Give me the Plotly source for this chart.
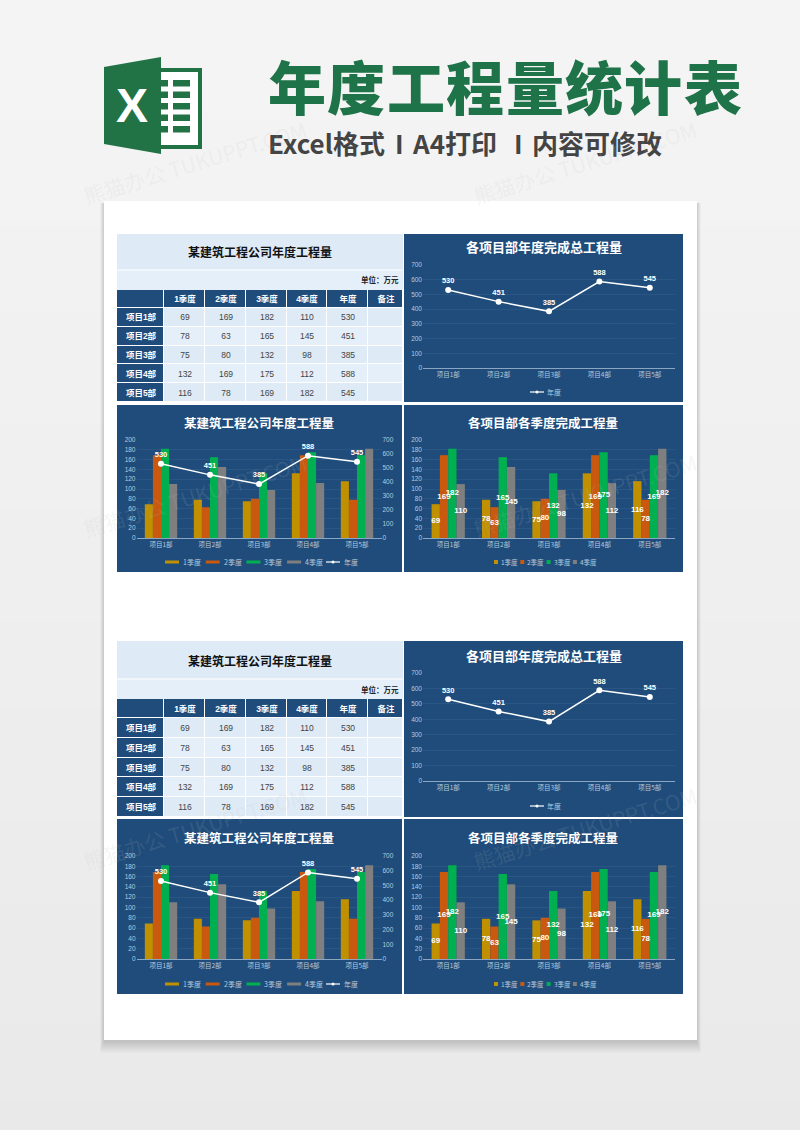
# Annual engineering volume poster: two copies of a table + three charts
import plotly.graph_objects as go

projects = ['项目1部', '项目2部', '项目3部', '项目4部', '项目5部']
quarters = ['1季度', '2季度', '3季度', '4季度']
q1 = [69, 78, 75, 132, 116]
q2 = [169, 63, 80, 169, 78]
q3 = [182, 165, 132, 175, 169]
q4 = [110, 145, 98, 112, 182]
year_total = [530, 451, 385, 588, 545]
notes = ['', '', '', '', '']
header_labels = ['', '1季度', '2季度', '3季度', '4季度', '年度', '备注']
left_ticks = [0, 20, 40, 60, 80, 100, 120, 140, 160, 180, 200]
right_ticks = [0, 100, 200, 300, 400, 500, 600, 700]

W, H = 800, 1130
NAVY = '#1f4c7a'
GRID = '#2a5684'
AXIS = '#8aa6c2'
TICK = '#b9cadb'
LIGHT = '#deebf7'
LIGHT2 = '#e5eff9'
GREEN = '#217346'
Q_COLORS = ['#c09000', '#c8590f', '#00b050', '#7f7f7f']
CJK = 'Noto Sans CJK SC'
NUM = 'Liberation Sans'
CELL_FONT = 'Liberation Sans, Noto Sans CJK SC'


def px(x):
    return x / W


def py(y):
    return 1 - y / H


fig = go.Figure()
shapes = []
notes_text = []


def rect(x0, y0, x1, y1, color):
    shapes.append(dict(type='rect', xref='paper', yref='paper', layer='below',
                       x0=px(x0), x1=px(x1), y0=py(y0), y1=py(y1),
                       fillcolor=color, line_width=0))


def label(x, y, s, size=8, color='white', anchor='center', font=CJK, weight='normal', **kw):
    notes_text.append(dict(x=px(x), y=py(y), xref='paper', yref='paper', text=s,
                           showarrow=False, xanchor=anchor, yanchor='middle',
                           font=dict(size=size, color=color, family=font, weight=weight), **kw))


# background and white sheet
bands = 40
for i in range(bands):
    v = 244 - int(11 * i / (bands - 1))
    rect(0, H * i / bands, W, min(H, H * (i + 1) / bands + 1), f'rgb({v},{v},{v})')
for i in range(10, 0, -1):
    rect(104 - i * 0.4, 203, 697 + i * 0.4, 1041 + i * 1.2, 'rgba(0,0,0,0.016)')
rect(104, 201, 697, 1040, 'white')

# Excel logo
shapes.append(dict(type='path', xref='paper', yref='paper', layer='below', line_width=0,
                   fillcolor=GREEN,
                   path=f'M{px(104)},{py(67)} L{px(161)},{py(57)} L{px(161)},{py(154)} '
                        f'L{px(104)},{py(144)} Z'))
rect(161, 68, 202, 149, GREEN)
rect(161, 72, 198, 145, 'white')
for top in [80, 91.5, 103, 114.5, 126]:
    rect(161, top, 168, top + 6.5, GREEN)
    rect(173, top, 190, top + 6.5, GREEN)
label(131.5, 105, 'X', size=48, font='Liberation Sans', weight='bold')

# poster heading
for i, ch in enumerate('年度工程量统计表'):
    label(297 + i * 59.4, 85, ch, size=58, color='#1e7348', weight=900)
for x, part in [(266, 'Excel格式'), (393, 'I'), (410, 'A4打印'), (512, 'I'), (530, '内容可修改')]:
    label(x, 142, part, size=26, color='#444444', anchor='left', weight='bold')

axis_no = 0


def new_axes(x0, x1, y_top, y_bot, y_range, y_ticks):
    """Category x axis and value y axis placed on a pixel box."""
    global axis_no
    axis_no += 1
    n = axis_no
    sx = '' if n == 1 else str(n)
    fig.layout[f'xaxis{sx}'] = dict(
        domain=[px(x0), px(x1)], anchor=f'y{sx}', range=[-0.5, 4.5], type='category',
        automargin=False, showgrid=False, showline=True, linecolor=AXIS, linewidth=1, ticks='',
        tickfont=dict(size=6.5, color=TICK, family=CJK))
    fig.layout[f'yaxis{sx}'] = dict(
        domain=[py(y_bot), py(y_top)], anchor=f'x{sx}', range=y_range, tickvals=y_ticks,
        automargin=False, showgrid=True, gridcolor=GRID, gridwidth=1, zeroline=False,
        showline=False, ticks='', tickfont=dict(size=6.5, color=TICK, family=NUM))
    return f'x{sx}', f'y{sx}'


def year_line(xa, ya):
    fig.add_trace(go.Scatter(x=projects, y=year_total, xaxis=xa, yaxis=ya, name='年度',
                             mode='lines+markers+text', text=year_total,
                             textposition='top center',
                             textfont=dict(size=7.5, color='white', family=NUM, weight='bold'),
                             line=dict(color='white', width=1.5),
                             marker=dict(color='white', size=6), showlegend=False))


def quarter_bars(xa, ya):
    for name, vals, color in zip(quarters, [q1, q2, q3, q4], Q_COLORS):
        fig.add_trace(go.Bar(x=projects, y=vals, xaxis=xa, yaxis=ya, name=name,
                             marker=dict(color=color, line_width=0), showlegend=False))


def quarter_labels(xa, ya):
    # scatter text sits above every bar, so a wide label is not hidden by the next bar
    for name, vals in zip(quarters, [q1, q2, q3, q4]):
        fig.add_trace(go.Scatter(x=projects, y=[v / 2 for v in vals], xaxis=xa, yaxis=ya,
                                 mode='text', text=vals, textposition='middle center',
                                 offsetgroup=name, alignmentgroup=xa, name=name,
                                 textfont=dict(size=8, color='white', family=NUM, weight='bold'),
                                 showlegend=False))


def add_table(y_title, y_unit, y_head, y_cells, y_end):
    rect(117, y_title, 403, y_unit - 0.5, LIGHT)
    rect(117, y_unit + 0.5, 403, y_head, LIGHT2)
    label(259.5, (y_title + y_unit) / 2, '某建筑工程公司年度工程量', size=12, color='#111111', weight='bold')
    label(401, (y_unit + y_head) / 2, '单位：万元', size=7.5, color='#222222', anchor='right', weight='bold')

    # the grid is a heatmap, row and column edges given in pixels of its own axes
    col_w = [47, 41, 41, 41, 40, 41, 35]
    x_edges = [0]
    for w in col_w:
        x_edges.append(x_edges[-1] + w)
    head_h = y_cells - y_head
    row_h = (y_end - y_cells) / 5
    y_edges = [0, head_h] + [head_h + row_h * (i + 1) for i in range(5)]

    columns = [q1, q2, q3, q4, year_total, notes]
    text = [[f'<b>{h}</b>' for h in header_labels]]
    z = [[0] * 7]
    for r in range(5):
        text.append([f'<b>{projects[r]}</b>'] + [str(c[r]) for c in columns])
        z.append([0] + [1 + r % 2] * 6)

    global axis_no
    axis_no += 1
    sx = '' if axis_no == 1 else str(axis_no)
    hidden = dict(automargin=False, showgrid=False, zeroline=False, showticklabels=False, ticks='')
    fig.layout[f'xaxis{sx}'] = dict(domain=[px(117), px(403)], anchor=f'y{sx}',
                                    range=[0, x_edges[-1]], **hidden)
    fig.layout[f'yaxis{sx}'] = dict(domain=[py(y_end), py(y_head)], anchor=f'x{sx}',
                                    range=[y_edges[-1], 0], **hidden)
    fig.add_trace(go.Heatmap(x=x_edges, y=y_edges, z=z, text=text, texttemplate='%{text}',
                             xaxis=f'x{sx}', yaxis=f'y{sx}', xgap=1, ygap=1, zmin=0, zmax=2,
                             colorscale=[[0, NAVY], [0.5, LIGHT], [1, LIGHT2]],
                             showscale=False, hoverinfo='skip',
                             textfont=dict(size=8.5, family=CELL_FONT)))


def line_swatch(x, y):
    shapes.append(dict(type='line', xref='paper', yref='paper', x0=px(x), x1=px(x + 14),
                       y0=py(y), y1=py(y), line=dict(color='white', width=1.2)))
    shapes.append(dict(type='circle', xref='paper', yref='paper', fillcolor='white', line_width=0,
                       x0=px(x + 5.5), x1=px(x + 8.5), y0=py(y + 1.5), y1=py(y - 1.5)))


def add_panels(y_top, y_bot, line_box, combo_top, combo_box, title_line, title_low):
    rect(404, y_top, 683, y_bot, NAVY)
    rect(117, combo_top, 402, combo_box[2], NAVY)
    rect(404, combo_top, 683, combo_box[2], NAVY)

    label(543.5, title_line, '各项目部年度完成总工程量', size=13, weight='bold')
    xa, ya = new_axes(423, 675, line_box[0], line_box[1], [0, 700], right_ticks)
    year_line(xa, ya)
    line_swatch(530, line_box[2])
    label(545, line_box[2], '年度', size=7, color=TICK, anchor='left')

    # combo chart, bars on the left axis and the yearly line on the right one
    label(259, title_low, '某建筑工程公司年度工程量', size=12.5, weight='bold')
    xa, ya = new_axes(136.5, 381.5, combo_box[0], combo_box[1], [0, 200], left_ticks)
    quarter_bars(xa, ya)
    global axis_no
    axis_no += 1
    right = f'y{axis_no}'
    fig.layout[f'yaxis{axis_no}'] = dict(
        overlaying=ya, anchor=xa, side='right', range=[0, 700], tickvals=right_ticks,
        automargin=False, showgrid=False, zeroline=False, showline=False, ticks='',
        tickfont=dict(size=6.5, color=TICK, family=NUM))
    year_line(xa, right)
    leg_y = combo_box[3]
    for i, (name, color) in enumerate(zip(quarters, Q_COLORS)):
        x = 165 + i * 40.7
        rect(x, leg_y - 1.5, x + 14, leg_y + 1.5, color)
        label(x + 16, leg_y, name, size=7, color=TICK, anchor='left')
    line_swatch(326, leg_y)
    label(342, leg_y, '年度', size=7, color=TICK, anchor='left')

    # grouped bars with labels
    label(543, title_low, '各项目部各季度完成工程量', size=12.5, weight='bold')
    xa, ya = new_axes(423, 675, combo_box[0], combo_box[1], [0, 200], left_ticks)
    quarter_bars(xa, ya)
    quarter_labels(xa, ya)
    for i, (name, color) in enumerate(zip(quarters, Q_COLORS)):
        x = 494 + i * 26.3
        rect(x, leg_y - 2, x + 4, leg_y + 2, color)
        label(x + 5, leg_y, name, size=6.5, color=TICK, anchor='left')


add_table(234, 270, 290, 308, 402)
add_panels(234, 402, (265, 368, 392), 405, (440, 538, 572, 562), 247, 422)
add_table(641, 679, 699, 718, 817)
add_panels(641, 817, (673, 781, 806), 819, (856, 959, 994, 984), 655, 837)

# faint watermark
for cy in [162, 495, 828]:
    for cx in [195, 585]:
        label(cx, cy, '熊猫办公 TUKUPPT.COM', size=21, color='rgba(190,190,190,0.14)', textangle=-17)

fig.update_layout(width=W, height=H, autosize=False, margin=dict(l=0, r=0, t=0, b=0),
                  paper_bgcolor='#ececec', plot_bgcolor='rgba(0,0,0,0)', showlegend=False,
                  barmode='group', bargap=0.34, bargroupgap=0,
                  scattermode='group', scattergap=0.34,
                  shapes=shapes, annotations=notes_text, font=dict(family=CJK))

fig.write_html("out.html", config={'displayModeBar': False},
               post_script="document.body.style.margin='0';")
